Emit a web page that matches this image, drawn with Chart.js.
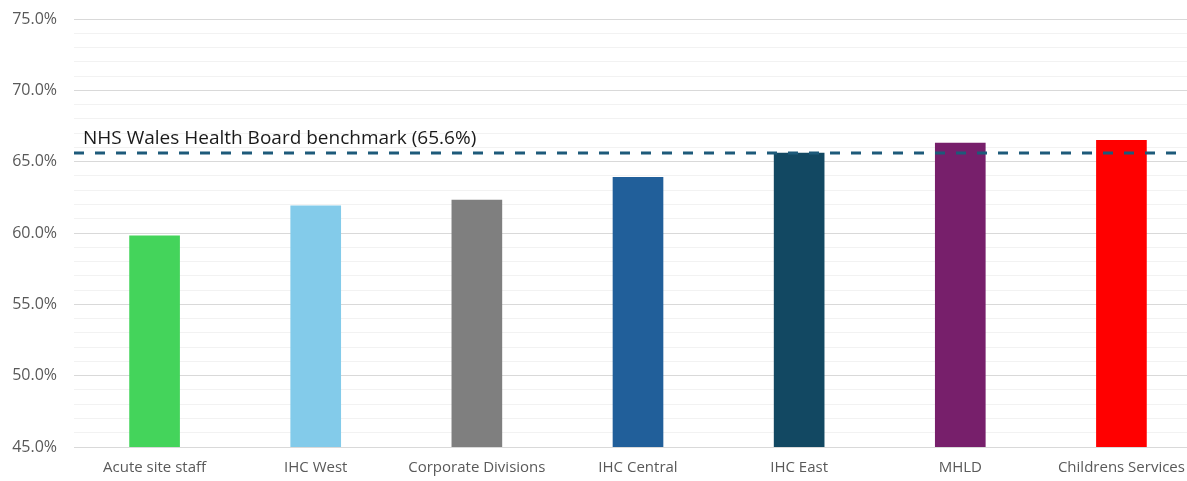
<!DOCTYPE html>
<html lang="en">
<head>
  <meta charset="UTF-8" />
  <title>Staff survey response by division</title>
  <script src="https://cdn.jsdelivr.net/npm/chart.js"></script>
  <style>
    body {
      margin: 0;
      padding: 0;
      background: #ffffff;
      overflow: hidden;
    }
    .wrap {
      width: 1202px;
      height: 481px;
    }
  </style>
</head>
<body>
  <div class="wrap">
    <canvas id="divisionChart" width="1202" height="481"></canvas>
  </div>

  <script>
    const divisions = ["Acute site staff", "IHC West", "Corporate Divisions", "IHC Central", "IHC East", "MHLD", "Childrens Services"];
    const scores = [59.8, 61.9, 62.3, 63.9, 65.6, 66.3, 66.5];
    const barColours = ["#44d45b", "#83cbea", "#7f7f7f", "#215f9a", "#124862", "#771f6b", "#ff0000"];
    const benchmark = 65.6;
    const benchmarkLabel = "NHS Wales Health Board benchmark (65.6%)";
    const yMin = 45;
    const yMax = 75;

    const labelFont = "'Open Sans', sans-serif";

    // dashed benchmark line across the full plot, drawn over the bars
    const benchmarkLine = {
      id: "benchmarkLine",
      afterDatasetsDraw(chart) {
        const { ctx, chartArea } = chart;
        const y = chart.scales.y.getPixelForValue(benchmark);
        ctx.save();
        ctx.strokeStyle = "#1d5a7a";
        ctx.lineWidth = 3;
        ctx.setLineDash([10, 11]);
        ctx.beginPath();
        ctx.moveTo(chartArea.left, y);
        ctx.lineTo(chartArea.right, y);
        ctx.stroke();
        ctx.setLineDash([]);
        ctx.fillStyle = "#1a1a1a";
        ctx.font = "19px " + labelFont;
        ctx.textBaseline = "alphabetic";
        ctx.fillText(benchmarkLabel, chartArea.left + 9, y - 9);
        ctx.restore();
      }
    };

    const ctx = document.getElementById("divisionChart").getContext("2d");
    new Chart(ctx, {
      type: "bar",
      data: {
        labels: divisions,
        datasets: [{
          data: scores,
          backgroundColor: barColours,
          barThickness: 50
        }]
      },
      options: {
        responsive: false,
        animation: false,
        layout: { padding: { top: 19, right: 0, left: 0, bottom: 0 } },
        plugins: {
          legend: { display: false },
          tooltip: { enabled: false }
        },
        scales: {
          x: {
            grid: { display: false, drawTicks: false },
            border: { display: false },
            ticks: {
              color: "#595959",
              font: { family: labelFont, size: 15 },
              padding: 12,
              maxRotation: 0,
              autoSkip: false
            },
            afterFit(scale) { scale.height = 34; }
          },
          y: {
            min: yMin,
            max: yMax,
            border: { display: false },
            grid: {
              drawTicks: false,
              color: (c) => (c.tick && c.tick.value % 5 === 0) ? "#d9d9d9" : "#f2f2f2",
              lineWidth: 1
            },
            ticks: {
              stepSize: 1,
              autoSkip: false,
              color: "#595959",
              font: { family: labelFont, size: 16 },
              padding: 17,
              callback: (v) => (v % 5 === 0) ? v.toFixed(1) + "%" : ""
            },
            afterFit(scale) {
              scale.width = 74;
              scale.paddingTop = 0;
              scale.paddingBottom = 0;
            }
          }
        }
      },
      plugins: [benchmarkLine]
    });
  </script>
</body>
</html>
